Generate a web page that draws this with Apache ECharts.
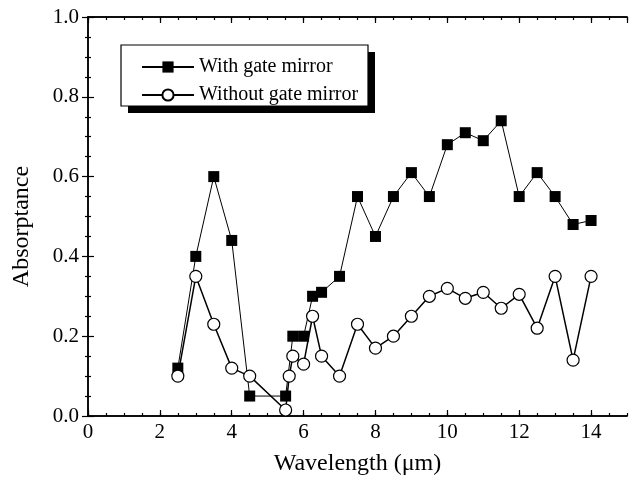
<!DOCTYPE html>
<html>
<head>
<meta charset="utf-8">
<script src="https://cdn.jsdelivr.net/npm/echarts@6/dist/echarts.min.js"></script>
<style>
html,body{margin:0;padding:0;background:#fff;}
#chart{width:635px;height:483px;}
</style>
</head>
<body>
<div id="chart"></div>
<script>
// Data
const seriesNames = ['With gate mirror', 'Without gate mirror'];
const wlWith = [2.5, 3, 3.5, 4, 4.5, 5.5, 5.7, 6.0, 6.25, 6.5, 7, 7.5, 8, 8.5, 9, 9.5, 10, 10.5, 11, 11.5, 12, 12.5, 13, 13.5, 14];
const absWith = [0.12, 0.40, 0.60, 0.44, 0.05, 0.05, 0.20, 0.20, 0.30, 0.31, 0.35, 0.55, 0.45, 0.55, 0.61, 0.55, 0.68, 0.71, 0.69, 0.74, 0.55, 0.61, 0.55, 0.48, 0.49];
const wlWithout = [2.5, 3, 3.5, 4, 4.5, 5.5, 5.6, 5.7, 6.0, 6.25, 6.5, 7, 7.5, 8, 8.5, 9, 9.5, 10, 10.5, 11, 11.5, 12, 12.5, 13, 13.5, 14];
const absWithout = [0.10, 0.35, 0.23, 0.12, 0.10, 0.015, 0.10, 0.15, 0.13, 0.25, 0.15, 0.10, 0.23, 0.17, 0.20, 0.25, 0.30, 0.32, 0.295, 0.31, 0.27, 0.305, 0.22, 0.35, 0.14, 0.35];
const xTickLabels = ['0', '2', '4', '6', '8', '10', '12', '14'];
const yTickLabels = ['0.0', '0.2', '0.4', '0.6', '0.8', '1.0'];

const FONT = 'Liberation Serif';
const pairs = (xs, ys) => xs.map((x, i) => [x, ys[i]]);

const chart = echarts.init(document.getElementById('chart'), null, {renderer: 'canvas'});

const lineStyleAxis = {show: true, lineStyle: {color: '#000', width: 1.5}};
function xAx(pos, interval, len, labels, extra) {
  return Object.assign({
    type: 'value', position: pos, min: 0, max: 15, interval: interval,
    axisLine: lineStyleAxis,
    axisTick: {show: true, inside: true, length: len, lineStyle: {color: '#000', width: 1.2}},
    axisLabel: labels ? {
      show: true, color: '#000', fontFamily: FONT, fontSize: 21, margin: 6,
      showMaxLabel: false,
      formatter: v => { const s = String(v); return xTickLabels.indexOf(s) >= 0 ? s : ''; }
    } : {show: false},
    splitLine: {show: false}
  }, extra || {});
}
function yAx(pos, labels, extra) {
  return Object.assign({
    type: 'value', position: pos, min: 0, max: 1, interval: 0.2,
    axisLine: lineStyleAxis,
    axisTick: {show: true, inside: true, length: 6, lineStyle: {color: '#000', width: 1.2}},
    minorTick: {show: true, splitNumber: 4, length: 3, lineStyle: {color: '#000', width: 1.2}},
    axisLabel: labels ? {
      show: true, color: '#000', fontFamily: FONT, fontSize: 21, margin: 9,
      formatter: v => yTickLabels[Math.round(v / 0.2)]
    } : {show: false},
    splitLine: {show: false}
  }, extra || {});
}

const option = {
  backgroundColor: '#fff',
  animation: false,
  grid: {left: 88, top: 17, right: 8, bottom: 67, containLabel: false},
  graphic: [
    {type: 'rect', z: 1, silent: true, shape: {x: 128, y: 52, width: 247, height: 61}, style: {fill: '#000'}},
    {type: 'rect', z: 2, silent: true, shape: {x: 121, y: 45, width: 247, height: 61}, style: {fill: '#fff', stroke: '#000', lineWidth: 1.2}}
  ],
  legend: {
    left: 121, top: 45, orient: 'vertical', z: 10,
    data: seriesNames,
    backgroundColor: 'transparent', borderWidth: 0,
    padding: [11, 5, 6, 20],
    itemWidth: 52, itemHeight: 14, itemGap: 6,
    textStyle: {color: '#000', fontFamily: FONT, fontSize: 20, lineHeight: 22}
  },
  xAxis: [
    xAx('bottom', 2, 6, true, {
      name: 'Wavelength (\u03bcm)', nameLocation: 'middle', nameGap: 36,
      nameTextStyle: {color: '#000', fontFamily: FONT, fontSize: 24}
    }),
    xAx('bottom', 0.5, 3, false),
    xAx('top', 2, 6, false),
    xAx('top', 0.5, 3, false)
  ],
  yAxis: [
    yAx('left', true, {
      name: 'Absorptance', nameLocation: 'middle', nameGap: 54,
      nameTextStyle: {color: '#000', fontFamily: FONT, fontSize: 24, padding: [0, 20, 0, 0]}
    }),
    yAx('right', false)
  ],
  series: [
    {
      name: seriesNames[0], type: 'line', xAxisIndex: 0, yAxisIndex: 0,
      data: pairs(wlWith, absWith),
      symbol: 'rect', symbolSize: 11,
      itemStyle: {color: '#000', borderColor: '#000', borderWidth: 0},
      lineStyle: {color: '#000', width: 1},
      z: 2
    },
    {
      name: seriesNames[1], type: 'line', xAxisIndex: 0, yAxisIndex: 0,
      data: pairs(wlWithout, absWithout),
      symbol: 'circle', symbolSize: 12,
      itemStyle: {color: '#fff', borderColor: '#000', borderWidth: 1.2},
      lineStyle: {color: '#000', width: 1.5},
      z: 3
    }
  ]
};
chart.setOption(option);
</script>
</body>
</html>
